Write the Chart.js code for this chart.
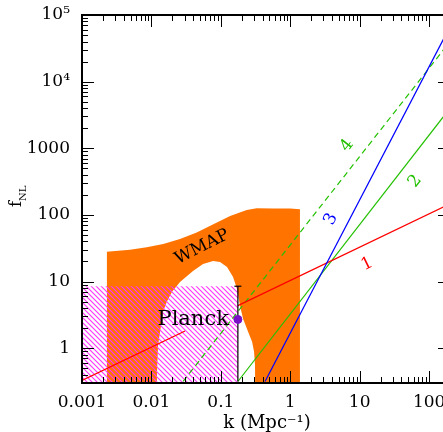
<!DOCTYPE html>
<html><head><meta charset="utf-8">
<script src="https://cdn.jsdelivr.net/npm/chart.js@4.4.1/dist/chart.umd.min.js"></script>
<style>html,body{margin:0;padding:0;background:#fff;overflow:hidden;width:443px;height:432px}canvas{display:block}</style>
</head><body><canvas id="c" width="470" height="432" style="width:470px;height:432px"></canvas>
<script>
// ---- axes ----
const kMin = 0.001, kMax = 200, fMin = 0.316, fMax = 1e5;
const xTickValues = [0.001, 0.01, 0.1, 1, 10, 100];
const xTickLabels = ["0.001", "0.01", "0.1", "1", "10", "100"];
const yTickValues = [1, 10, 100, 1000, 1e4, 1e5];
const yTickLabels = ["1", "10", "100", "1000", "10\u2074", "10\u2075"];

// ---- WMAP excluded region (upper envelope) ----
const wmapK   = [0.00227, 0.00492, 0.00855, 0.0148, 0.0258, 0.0449, 0.078, 0.136, 0.236, 0.329, 0.571, 0.993, 1.38];
const wmapTop = [28.0, 30.0, 32.6, 36.5, 43.3, 54.6, 72.6, 96.6, 118.8, 125.9, 124.6, 124.6, 121.7];

// ---- WMAP allowed window (hole) ----
const holeK = [0.0119, 0.01225, 0.01245, 0.01469, 0.0166, 0.0198, 0.0258, 0.0397, 0.0554, 0.0773, 0.0973, 0.1228, 0.150, 0.171, 0.189, 0.209, 0.247, 0.282, 0.301, 0.311, 0.314];
const holeF = [0.316, 0.697, 1.09, 3.51, 4.95, 7.0, 9.86, 14.4, 18.3, 20.3, 19.6, 16.5, 11.7, 7.75, 4.32, 2.76, 1.77, 1.25, 0.887, 0.547, 0.316];

// ---- Planck ----
const planckK = [0.001, 0.176];
const planckUpper = [8.5, 8.5];
const planckPointK = 0.176, planckPointF = 2.7, planckErrTop = 8.5;

// ---- model lines ----
const line1K = [0.001, 0.0305, 0.07, 0.176, 200];
const line1F = [0.328, 1.81, null, 4.35, 147];
const line2K = [0.176, 200];
const line2F = [0.316, 4000];
const line3K = [0.433, 200];
const line3F = [0.316, 67000];
const line4K = [0.0285, 200];
const line4F = [0.316, 40000];

// ---- annotation anchors (data coords) ----
const labelTexts = ["WMAP", "1", "2", "3", "4"];
const labelK = [0.0536, 12.8, 62.8, 3.87, 6.58];
const labelF = [32.9, 18.3, 319, 86.2, 1101];
const labelAngle = [-27, -26, -52, -63, -52];
const labelColor = ["#000", "#ff0000", "#22c000", "#0000ff", "#22c000"];

const zip = (a, b) => a.map((v, i) => ({x: v, y: b[i]}));

const ctx = document.getElementById('c').getContext('2d');
const pat = ctx.createPattern((() => {
  const s = 5, c = document.createElement('canvas'); c.width = s; c.height = s;
  const g = c.getContext('2d'); g.strokeStyle = '#ff33ff'; g.lineWidth = 1.1;
  g.beginPath(); g.moveTo(-1,-1); g.lineTo(s+1,s+1); g.moveTo(s-1,-1); g.lineTo(s+1,1); g.moveTo(-1,s-1); g.lineTo(1,s+1); g.stroke();
  return c;
})(), 'repeat');

const SERIF = '"DejaVu Serif", serif';

const decor = {
  id: 'decor',
  afterDatasetsDraw(chart) {
    const {ctx, chartArea: a, scales: {x, y}} = chart;
    ctx.save();
    // ticks
    ctx.strokeStyle = '#000'; ctx.lineWidth = 1;
    for (let d = -3; d <= 2; d++) for (let m = 1; m <= 9; m++) {
      const v = m * Math.pow(10, d);
      if (v < kMin || v > kMax) continue;
      const px = Math.round(x.getPixelForValue(v)) + 0.5, L = m === 1 ? 12 : 6;
      ctx.beginPath(); ctx.moveTo(px, a.bottom); ctx.lineTo(px, a.bottom - L);
      ctx.moveTo(px, a.top); ctx.lineTo(px, a.top + L); ctx.stroke();
    }
    for (let d = -1; d <= 5; d++) for (let m = 1; m <= 9; m++) {
      const v = m * Math.pow(10, d);
      if (v < fMin || v > fMax) continue;
      const py = Math.round(y.getPixelForValue(v)) + 0.5, L = m === 1 ? 12 : 6;
      ctx.beginPath(); ctx.moveTo(a.left, py); ctx.lineTo(a.left + L, py);
      ctx.moveTo(a.right, py); ctx.lineTo(a.right - L, py); ctx.stroke();
    }
    // frame
    ctx.lineWidth = 2;
    ctx.strokeRect(a.left, a.top, a.right - a.left, a.bottom - a.top);
    // annotations
    labelTexts.forEach((t, i) => {
      ctx.save();
      ctx.translate(x.getPixelForValue(labelK[i]), y.getPixelForValue(labelF[i]));
      ctx.rotate(labelAngle[i] * Math.PI / 180);
      ctx.fillStyle = labelColor[i];
      ctx.font = '17px ' + SERIF;
      ctx.textAlign = 'center'; ctx.textBaseline = 'middle';
      ctx.fillText(t, 0, 0);
      ctx.restore();
    });
    // Planck label
    ctx.fillStyle = '#000';
    ctx.font = '21px ' + SERIF;
    ctx.textAlign = 'right'; ctx.textBaseline = 'middle';
    ctx.fillText('Planck', x.getPixelForValue(planckPointK) - 9, y.getPixelForValue(planckPointF));
    // axis titles
    ctx.font = '18px ' + SERIF;
    ctx.textAlign = 'center'; ctx.textBaseline = 'alphabetic';
    ctx.fillText('k (Mpc\u207B\u00B9)', 267, 428);
    ctx.save();
    ctx.translate(21, 207);
    ctx.rotate(-Math.PI / 2);
    ctx.font = '16px ' + SERIF; ctx.textAlign = 'left';
    ctx.fillText('f', 0, 0);
    ctx.font = '10px ' + SERIF;
    ctx.fillText('NL', 6, 5);
    ctx.restore();
    ctx.restore();
  }
};

const tickFont = {family: SERIF, size: 17, lineHeight: 1};
new Chart(ctx, {
  type: 'line',
  data: {
    datasets: [
      {data: zip(wmapK, wmapTop), borderWidth: 0, pointRadius: 0, fill: 'start', backgroundColor: '#ff7300', order: 10},
      {data: zip(holeK, holeF), borderWidth: 0, pointRadius: 0, fill: 'start', backgroundColor: '#ffffff', order: 9},
      {data: zip(planckK, planckUpper), borderWidth: 0, pointRadius: 0, fill: 'start', backgroundColor: pat, order: 8},
      {data: zip(line1K, line1F), borderColor: '#ff0000', borderWidth: 1.2, pointRadius: 0, fill: false, spanGaps: false, order: 5},
      {data: zip(line2K, line2F), borderColor: '#22c000', borderWidth: 1.2, pointRadius: 0, fill: false, order: 5},
      {data: zip(line4K, line4F), borderColor: '#22c000', borderWidth: 1.2, borderDash: [6, 4], pointRadius: 0, fill: false, order: 5},
      {data: zip(line3K, line3F), borderColor: '#0000ff', borderWidth: 1.2, pointRadius: 0, fill: false, order: 4},
      {data: [{x: planckPointK, y: planckErrTop}, {x: planckPointK, y: fMin}], borderColor: '#000', borderWidth: 1.2, pointStyle: 'line', pointRadius: [3.5, 0], pointBorderColor: '#000', pointBorderWidth: 1.2, fill: false, order: 2},
      {data: [{x: planckPointK, y: planckPointF}], showLine: false, pointRadius: 4, pointBackgroundColor: '#7a10c8', pointBorderColor: '#7a10c8', order: 1}
    ]
  },
  options: {
    responsive: false, animation: false, devicePixelRatio: 1,
    layout: {padding: {top: 15, right: 20, left: 0, bottom: 0}},
    plugins: {legend: {display: false}, tooltip: {enabled: false}},
    elements: {line: {tension: 0}},
    scales: {
      x: {
        type: 'logarithmic', min: kMin, max: kMax,
        afterBuildTicks: s => { s.ticks = xTickValues.map(v => ({value: v})); },
        afterFit: s => { s.height = 49; },
        ticks: {autoSkip: false, maxRotation: 0, padding: 0, color: '#000', font: tickFont,
          callback: v => { const i = xTickValues.findIndex(t => Math.abs(Math.log10(t) - Math.log10(v)) < 1e-6); return i < 0 ? '' : xTickLabels[i]; }},
        grid: {display: false, drawTicks: true, tickLength: 11}, border: {display: false}
      },
      y: {
        type: 'logarithmic', min: fMin, max: fMax,
        afterBuildTicks: s => { s.ticks = yTickValues.map(v => ({value: v})); },
        afterFit: s => { s.width = 82; },
        ticks: {autoSkip: false, padding: 0, color: '#000', font: tickFont,
          callback: v => { const i = yTickValues.findIndex(t => Math.abs(Math.log10(t) - Math.log10(v)) < 1e-6); return i < 0 ? '' : yTickLabels[i]; }},
        grid: {display: false, drawTicks: true, tickLength: 12}, border: {display: false}
      }
    }
  },
  plugins: [decor]
});
</script>
</body></html>
